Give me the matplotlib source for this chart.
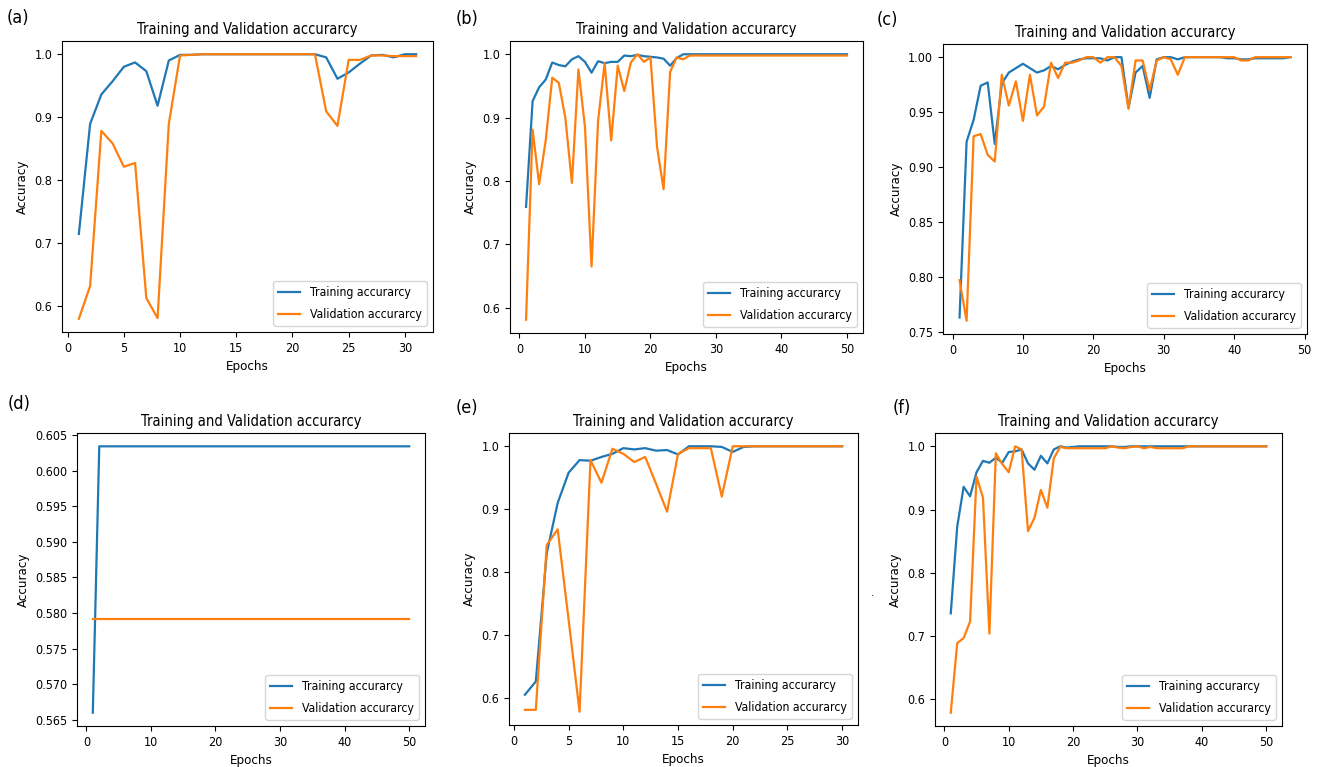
import matplotlib
matplotlib.use("Agg")
import matplotlib.pyplot as plt
from matplotlib.ticker import MultipleLocator

plt.rcParams['font.family'] = ['DejaVu Sans']
plt.rcParams['font.stretch'] = 'condensed'

# ---- data ----
a_train = [0.714, 0.889, 0.936, 0.957, 0.980, 0.987, 0.973, 0.918, 0.990, 0.999, 0.999,
           1.0, 1.0, 1.0, 1.0, 1.0, 1.0, 1.0, 1.0, 1.0, 1.0, 1.0,
           0.995, 0.961, 0.971, 0.985, 0.998, 0.999, 0.995, 1.0, 1.0]
a_val = [0.579, 0.631, 0.878, 0.858, 0.821, 0.827, 0.612, 0.580, 0.889, 0.998, 0.999,
         1.0, 1.0, 1.0, 1.0, 1.0, 1.0, 1.0, 1.0, 1.0, 1.0, 1.0,
         0.909, 0.886, 0.991, 0.991, 0.998, 0.998, 0.997, 0.997, 0.997]

b_train = [0.759, 0.926, 0.948, 0.960, 0.987, 0.983, 0.981, 0.992, 0.997, 0.988,
           0.971, 0.989, 0.986, 0.988, 0.988, 0.998, 0.997, 0.999, 0.997, 0.996,
           0.995, 0.993, 0.982, 0.994] + [1.0] * 26
b_val = [0.581, 0.881, 0.795, 0.864, 0.963, 0.955, 0.900, 0.797, 0.976, 0.885,
         0.665, 0.895, 0.986, 0.864, 0.982, 0.942, 0.987, 1.0, 0.988, 0.995,
         0.854, 0.787, 0.972, 0.995, 0.992] + [0.998] * 25

c_train = [0.763, 0.923, 0.943, 0.974, 0.977, 0.921, 0.976, 0.986, 0.990, 0.994,
           0.990, 0.986, 0.988, 0.992, 0.989, 0.993, 0.996, 0.998, 0.999, 0.999,
           0.999, 0.997, 1.0, 1.0, 0.954, 0.986, 0.992, 0.963, 0.998, 1.0,
           1.0, 0.998, 1.0, 1.0, 1.0, 1.0, 1.0, 1.0, 0.999, 0.999,
           0.998, 0.998, 0.999, 0.999, 0.999, 0.999, 0.999, 1.0]
c_val = [0.797, 0.760, 0.928, 0.930, 0.911, 0.905, 0.984, 0.956, 0.978, 0.942,
         0.984, 0.947, 0.955, 0.995, 0.981, 0.995, 0.995, 0.997, 1.0, 1.0,
         0.995, 1.0, 1.0, 0.992, 0.953, 0.997, 0.997, 0.970, 0.997, 1.0,
         0.998, 0.984, 1.0, 1.0, 1.0, 1.0, 1.0, 1.0, 1.0, 1.0,
         0.997, 0.997, 1.0, 1.0, 1.0, 1.0, 1.0, 1.0]

d_train = [0.566] + [0.6034] * 49
d_val = [0.5791] * 50

e_train = [0.605, 0.626, 0.830, 0.910, 0.958, 0.978, 0.977, 0.983, 0.988, 0.997,
           0.995, 0.997, 0.993, 0.994, 0.987, 1.0, 1.0, 1.0, 0.999, 0.991,
           0.999] + [1.0] * 9
e_val = [0.581, 0.581, 0.843, 0.868, 0.724, 0.578, 0.978, 0.942, 0.996, 0.988,
         0.975, 0.983, 0.940, 0.896, 0.988, 0.997, 0.997, 0.997, 0.920, 1.0] + [1.0] * 10

f_train = [0.736, 0.873, 0.936, 0.921, 0.959, 0.977, 0.974, 0.982, 0.974, 0.991,
           0.992, 0.995, 0.973, 0.963, 0.985, 0.973, 0.995, 1.0, 0.998, 0.999,
           1.0, 1.0, 1.0, 1.0, 1.0, 1.0, 0.999, 0.999, 1.0, 1.0] + [1.0] * 20
f_val = [0.579, 0.689, 0.697, 0.723, 0.952, 0.919, 0.704, 0.989, 0.972, 0.959,
         1.0, 0.995, 0.866, 0.887, 0.931, 0.903, 0.981, 0.999,
         0.997, 0.997, 0.997, 0.997, 0.997, 0.997, 0.997, 1.0, 0.998, 0.997,
         0.999, 1.0, 0.997, 0.999, 0.997, 0.997, 0.997, 0.997, 0.997] + [1.0] * 13

panel_names = ["(a)", "(b)", "(c)", "(d)", "(e)", "(f)"]
train_series = [a_train, b_train, c_train, d_train, e_train, f_train]
val_series = [a_val, b_val, c_val, d_val, e_val, f_val]

W, H = 1317, 767
# axes boxes in pixels: left, right, top, bottom
boxes = [(62, 433, 41, 332), (510, 863, 41, 333), (943, 1307, 44, 334),
         (77, 425, 433, 726), (509, 858, 433, 725), (935, 1282, 433, 726)]
label_pos = [(18, 18), (467, 19), (887, 20), (19, 404), (467, 408), (902, 408)]

fig = plt.figure(figsize=(W / 100, H / 100), dpi=100)

for i in range(6):
    l, r, t, b = boxes[i]
    ax = fig.add_axes([l / W, 1 - b / H, (r - l) / W, (b - t) / H])
    tr = train_series[i]
    va = val_series[i]
    ax.plot(range(1, len(tr) + 1), tr, color='tab:blue', lw=1.6, label='Training accurarcy')
    ax.plot(range(1, len(va) + 1), va, color='tab:orange', lw=1.6, label='Validation accurarcy')
    ax.set_title('Training and Validation accurarcy', fontsize=10.5, pad=5)
    ax.set_xlabel('Epochs', fontsize=9.5, labelpad=4)
    ax.set_ylabel('Accuracy', fontsize=9.5, labelpad=4)
    ax.tick_params(labelsize=9)
    if i == 3:
        ax.yaxis.set_major_locator(MultipleLocator(0.005))
    ax.legend(loc='lower right', fontsize=8.8, labelspacing=0.75, handlelength=1.8)
    fig.text(label_pos[i][0] / W, 1 - label_pos[i][1] / H, panel_names[i],
             fontsize=13, ha='center', va='center')

# stray dot next to panel (f)
fig.text(873 / W, 1 - 593 / H, '.', fontsize=8, ha='center', va='center')

fig.savefig('out.png', dpi=100)
